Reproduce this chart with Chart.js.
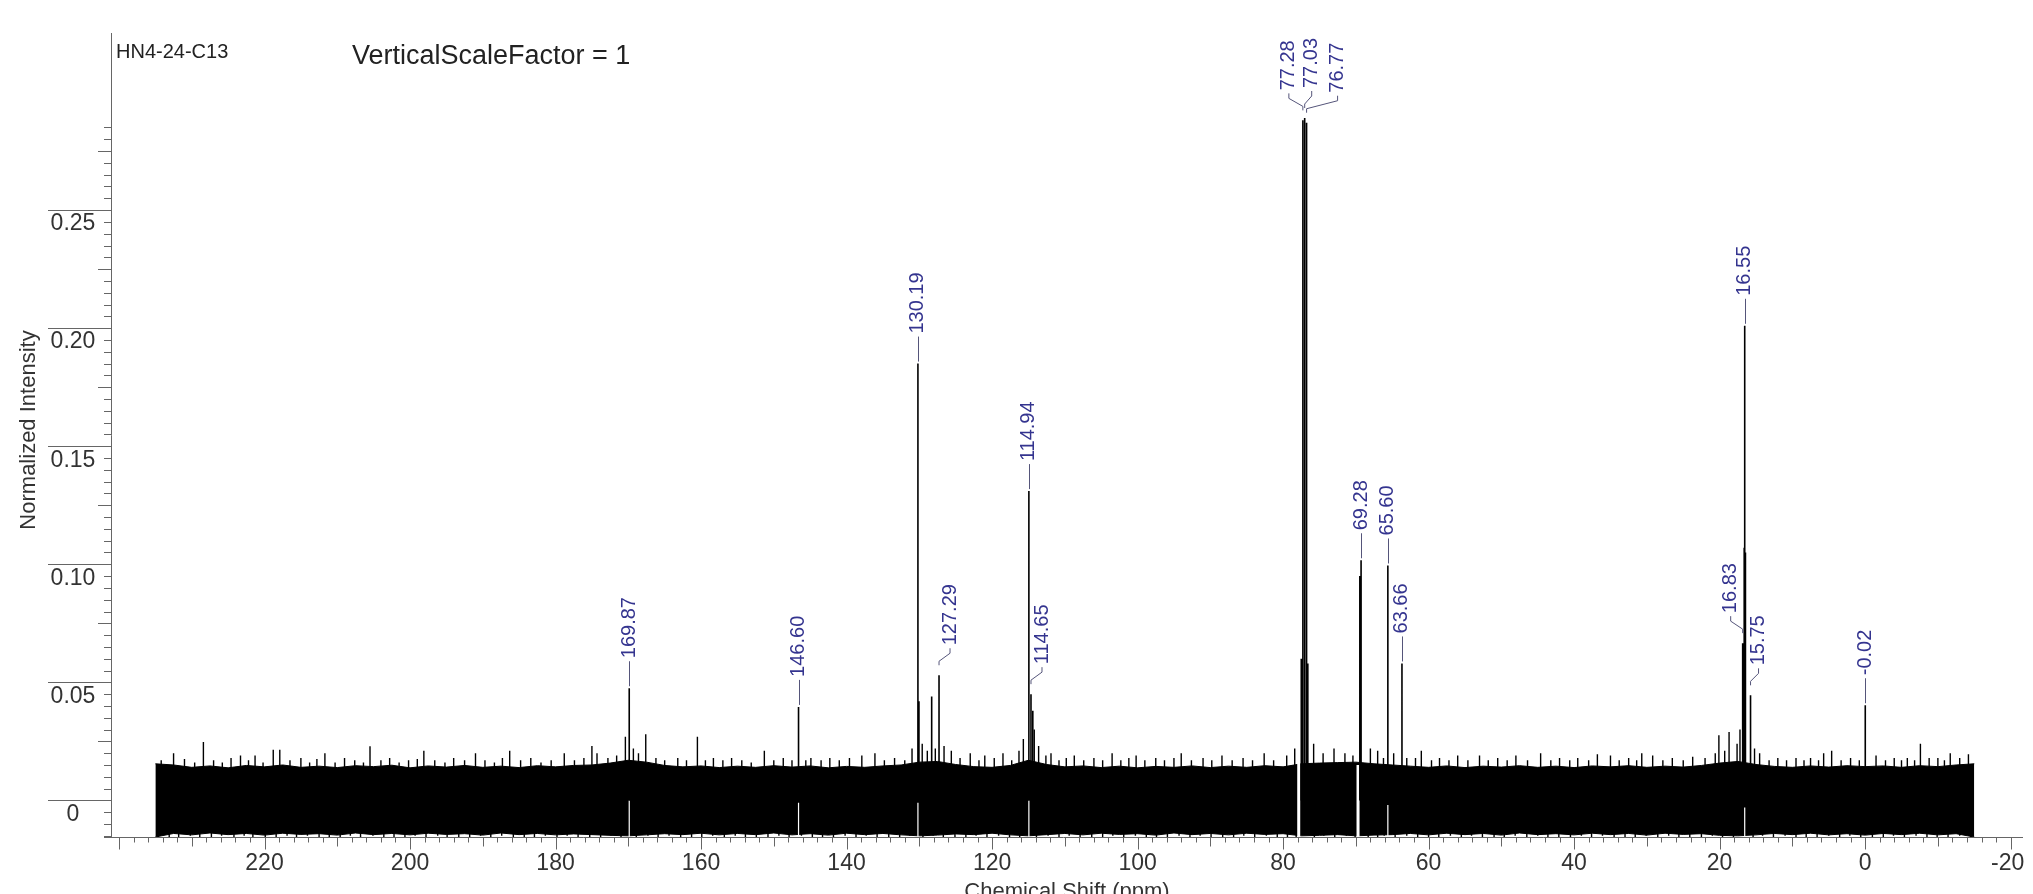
<!DOCTYPE html>
<html>
<head>
<meta charset="utf-8">
<title>HN4-24-C13</title>
<script src="https://cdn.jsdelivr.net/npm/chart.js@4/dist/chart.umd.min.js"></script>
<style>
  html, body { margin: 0; padding: 0; background: #fff; }
  canvas { display: block; }
</style>
</head>
<body>
<canvas id="spec" width="2033" height="894"></canvas>
<script>
/* HN4-24-C13 — 13C spectrum, normalized intensity vs chemical shift */

const sampleName = 'HN4-24-C13';
const scaleNote = 'VerticalScaleFactor = 1';
const xTitle = 'Chemical Shift (ppm)';
const yTitle = 'Normalized Intensity';

const xTickLabels = [220, 200, 180, 160, 140, 120, 100, 80, 60, 40, 20, 0, -20];
const yTickValues = [0, 0.05, 0.10, 0.15, 0.20, 0.25];
const yTickLabels = ['0', '0.05', '0.10', '0.15', '0.20', '0.25'];

// resolved lines: [ppm, normalized height]
const peaks = [
  [169.87, 0.0475], [146.60, 0.0396],
  [130.19, 0.185], [130.05, 0.042], [128.3, 0.044], [127.29, 0.053],
  [114.94, 0.131], [114.65, 0.045], [114.4, 0.038],
  [77.5, 0.060], [77.28, 0.288], [77.03, 0.289], [76.77, 0.287], [76.6, 0.058],
  [69.45, 0.095], [69.28, 0.1017], [65.60, 0.0995], [63.66, 0.058],
  [16.83, 0.0666], [16.62, 0.107], [16.55, 0.201], [16.45, 0.105], [15.75, 0.0445],
  [-0.02, 0.0403],
];

// picked peaks carrying a label
const labelPpm = [169.87, 146.60, 130.19, 127.29, 114.94, 114.65, 77.28, 77.03, 76.77,
  69.28, 65.60, 63.66, 16.83, 16.55, 15.75, -0.02];

// baseline noise: dense band every 2.5 ppm
const bandPpm = [235, 232.5, 230, 227.5, 225, 222.5, 220, 217.5, 215, 212.5, 210, 207.5, 205, 202.5, 200,
  197.5, 195, 192.5, 190, 187.5, 185, 182.5, 180, 177.5, 175, 172.5, 170, 167.5, 165, 162.5, 160,
  157.5, 155, 152.5, 150, 147.5, 145, 142.5, 140, 137.5, 135, 132.5, 130, 127.5, 125, 122.5, 120,
  117.5, 115, 112.5, 110, 107.5, 105, 102.5, 100, 97.5, 95, 92.5, 90, 87.5, 85, 82.5, 80,
  77.5, 75, 72.5, 70, 67.5, 65, 62.5, 60, 57.5, 55, 52.5, 50, 47.5, 45, 42.5, 40,
  37.5, 35, 32.5, 30, 27.5, 25, 22.5, 20, 17.5, 15, 12.5, 10, 7.5, 5, 2.5, 0,
  -2.5, -5, -7.5, -10, -12.5, -15];
const bandTop = [0.0155, 0.0150, 0.0140, 0.0146, 0.0138, 0.0148, 0.0142, 0.0150, 0.0140, 0.0145, 0.0139, 0.0147, 0.0143, 0.0149, 0.0138,
  0.0146, 0.0141, 0.0148, 0.0140, 0.0145, 0.0139, 0.0147, 0.0142, 0.0148, 0.0150, 0.0158, 0.0170, 0.0162, 0.0148, 0.0142, 0.0146,
  0.0139, 0.0145, 0.0140, 0.0147, 0.0141, 0.0146, 0.0138, 0.0144, 0.0140, 0.0146, 0.0150, 0.0162, 0.0165, 0.0152, 0.0143, 0.0140,
  0.0148, 0.0170, 0.0152, 0.0142, 0.0146, 0.0139, 0.0145, 0.0138, 0.0144, 0.0140, 0.0146, 0.0139, 0.0145, 0.0140, 0.0147, 0.0142,
  0.0155, 0.0158, 0.0160, 0.0162, 0.0155, 0.0150, 0.0145, 0.0140, 0.0146, 0.0139, 0.0145, 0.0141, 0.0147, 0.0140, 0.0145, 0.0139,
  0.0146, 0.0142, 0.0147, 0.0140, 0.0145, 0.0141, 0.0148, 0.0158, 0.0165, 0.0152, 0.0144, 0.0140, 0.0146, 0.0141, 0.0147, 0.0143,
  0.0146, 0.0140, 0.0147, 0.0143, 0.0150, 0.0155];
const bandBottom = [-0.0155, -0.0140, -0.0146, -0.0138, -0.0145, -0.0140, -0.0147, -0.0139, -0.0144, -0.0141, -0.0147, -0.0138, -0.0145, -0.0140, -0.0146,
  -0.0139, -0.0144, -0.0141, -0.0147, -0.0138, -0.0145, -0.0140, -0.0146, -0.0142, -0.0145, -0.0148, -0.0150, -0.0146, -0.0141, -0.0145, -0.0139,
  -0.0146, -0.0140, -0.0145, -0.0138, -0.0146, -0.0141, -0.0147, -0.0139, -0.0145, -0.0140, -0.0146, -0.0150, -0.0147, -0.0142, -0.0145, -0.0139,
  -0.0146, -0.0150, -0.0145, -0.0140, -0.0146, -0.0139, -0.0144, -0.0141, -0.0147, -0.0138, -0.0145, -0.0140, -0.0146, -0.0139, -0.0144, -0.0141,
  -0.0150, -0.0148, -0.0145, -0.0150, -0.0147, -0.0145, -0.0140, -0.0146, -0.0139, -0.0145, -0.0140, -0.0147, -0.0138, -0.0145, -0.0141, -0.0146,
  -0.0139, -0.0145, -0.0140, -0.0147, -0.0139, -0.0144, -0.0141, -0.0148, -0.0150, -0.0146, -0.0140, -0.0145, -0.0139, -0.0146, -0.0141, -0.0147,
  -0.0140, -0.0145, -0.0139, -0.0146, -0.0141, -0.0155];

// noise spikes standing out of the band: [ppm, value]
const spikesUp = [
  [234.2, .017], [232.5, .020], [231.0, .0175], [229.6, .016], [228.4, .0247], [227.0, .017], [225.8, .016],
  [224.6, .018], [223.3, .019], [222.2, .017], [221.3, .019], [220.2, .016], [218.8, .0215], [217.9, .0215],
  [216.5, .017], [215.0, .018], [213.8, .016], [212.8, .0175], [211.7, .020], [210.3, .016], [209.0, .018],
  [207.6, .017], [206.4, .016], [205.5, .0229], [204.0, .017], [202.8, .018], [201.5, .016], [200.2, .017],
  [199.0, .0175], [198.1, .021], [196.6, .017], [195.2, .016], [194.0, .018], [192.5, .017], [191.0, .020],
  [189.7, .017], [188.4, .016], [187.3, .018], [186.3, .021], [184.8, .017], [183.4, .018], [182.0, .016],
  [180.6, .017], [178.8, .020], [177.4, .017], [176.1, .018], [175.0, .023], [174.3, .020], [172.8, .018],
  [171.6, .019], [170.4, .027], [169.3, .022], [168.6, .020], [167.6, .028], [166.2, .018], [165.0, .017],
  [163.2, .018], [162.0, .017], [160.5, .027], [159.4, .017], [158.3, .018], [157.0, .017], [155.8, .018],
  [154.4, .017], [153.1, .016], [151.3, .021], [150.0, .017], [148.7, .018], [147.5, .017], [145.6, .017],
  [144.9, .018], [143.5, .017], [142.3, .018], [141.0, .017], [139.6, .018], [137.9, .019], [136.1, .020],
  [134.8, .017], [133.4, .018], [132.0, .017], [131.0, .022], [129.6, .024], [128.9, .021], [127.8, .022],
  [126.6, .023], [125.6, .021], [124.4, .018], [123.0, .020], [121.8, .017], [121.0, .019], [119.7, .018],
  [118.5, .020], [117.3, .017], [116.3, .021], [115.7, .026], [114.2, .030], [113.6, .023], [112.6, .019],
  [111.9, .020], [110.8, .017], [109.8, .018], [108.7, .019], [107.4, .017], [106.0, .018], [104.8, .017],
  [103.5, .020], [102.3, .017], [101.2, .018], [100.2, .019], [99.0, .017], [97.5, .018], [96.3, .017],
  [95.0, .018], [94.0, .020], [92.6, .017], [91.0, .018], [89.8, .017], [88.4, .019], [87.0, .017],
  [85.5, .018], [84.2, .017], [82.6, .020], [81.3, .017], [79.5, .019], [78.4, .022], [75.8, .024],
  [74.5, .020], [73.0, .022], [71.5, .020], [70.4, .019], [68.0, .022], [67.0, .021], [66.2, .018],
  [64.8, .020], [63.0, .018], [61.8, .018], [61.0, .021], [59.6, .017], [58.5, .018], [57.2, .017],
  [56.0, .019], [54.6, .017], [53.0, .019], [51.8, .017], [50.5, .018], [49.2, .017], [48.0, .019],
  [46.4, .017], [44.6, .020], [43.2, .017], [42.0, .018], [40.6, .017], [39.5, .018], [38.0, .017],
  [36.8, .0195], [35.0, .019], [33.8, .017], [32.5, .018], [31.4, .017], [30.7, .020], [29.2, .019],
  [27.8, .017], [26.5, .018], [25.0, .017], [23.7, .0185], [22.0, .018], [20.6, .020], [20.1, .0276],
  [19.3, .021], [18.7, .029], [17.6, .024], [17.2, .030], [15.2, .022], [14.5, .020], [13.2, .017],
  [12.0, .018], [10.8, .017], [9.5, .018], [8.4, .017], [7.5, .018], [6.4, .017], [5.7, .020], [4.6, .021],
  [3.3, .017], [2.0, .018], [0.8, .017], [-1.5, .019], [-2.8, .017], [-4.0, .018], [-5.0, .017],
  [-5.8, .018], [-6.8, .017], [-7.6, .024], [-8.8, .018], [-10.0, .018], [-10.9, .017], [-11.7, .020],
  [-13.0, .018], [-14.2, .0195],
];
const spikesDown = [
  [234.6, -.0155], [233.1, -.0155], [231.8, -.0155], [230.2, -.015], [228.9, -.0155], [227.3, -.0155],
  [225.9, -.015], [224.2, -.0155], [222.8, -.015], [221.6, -.0155], [219.9, -.0155], [218.4, -.0155],
  [216.9, -.015], [215.6, -.0155], [214.1, -.015], [212.5, -.0155], [211.1, -.0155], [209.6, -.0155],
  [208.2, -.015], [206.8, -.0155], [205.1, -.015], [203.6, -.0155], [202.2, -.0155], [200.7, -.0155],
  [199.3, -.015], [197.8, -.0155], [196.2, -.015], [194.9, -.0155], [193.3, -.0155], [191.8, -.0155],
  [190.3, -.015], [188.9, -.0155], [187.4, -.015], [185.8, -.0155], [184.3, -.0155], [182.9, -.0155],
  [181.4, -.015], [179.8, -.0155], [178.4, -.015], [176.9, -.0155], [175.3, -.0155], [173.8, -.0155],
  [172.4, -.015], [171.0, -.0155], [168.9, -.0155], [167.3, -.015], [165.9, -.0155], [164.4, -.015],
  [162.8, -.0155], [161.3, -.0155], [159.9, -.0155], [158.4, -.015], [156.8, -.0155], [155.3, -.015],
  [153.9, -.0155], [152.4, -.0155], [150.8, -.0155], [149.3, -.015], [147.9, -.0155], [146.2, -.015],
  [144.7, -.0155], [143.3, -.0155], [141.8, -.0155], [140.2, -.015], [138.7, -.0155], [137.3, -.015],
  [135.8, -.0155], [134.2, -.0155], [132.7, -.0155], [131.3, -.015], [129.5, -.0155], [128.1, -.015],
  [126.7, -.0155], [125.1, -.0155], [123.6, -.0155], [122.2, -.015], [120.7, -.0155], [119.1, -.015],
  [117.6, -.0155], [116.2, -.0155], [113.9, -.0155], [112.3, -.015], [110.8, -.0155], [109.4, -.015],
  [107.9, -.0155], [106.3, -.0155], [104.8, -.0155], [103.4, -.015], [101.9, -.0155], [100.3, -.015],
  [98.8, -.0155], [97.4, -.0155], [95.9, -.0155], [94.3, -.015], [92.8, -.0155], [91.4, -.015],
  [89.9, -.0155], [88.3, -.0155], [86.8, -.0155], [85.4, -.015], [83.9, -.0155], [82.3, -.015],
  [80.8, -.0155], [79.4, -.0155], [78.2, -.0155], [75.7, -.0155], [74.4, -.015], [72.9, -.0155],
  [71.3, -.015], [70.1, -.0155], [68.3, -.0155], [67.0, -.0155], [66.1, -.015], [64.6, -.0155],
  [63.0, -.015], [61.5, -.0155], [60.0, -.0155], [58.6, -.0155], [57.0, -.015], [55.5, -.0155],
  [54.1, -.015], [52.6, -.0155], [51.0, -.0155], [49.6, -.0155], [48.1, -.015], [46.5, -.0155],
  [45.0, -.015], [43.6, -.0155], [42.1, -.0155], [40.5, -.0155], [39.0, -.015], [37.6, -.0155],
  [36.1, -.015], [34.5, -.0155], [33.0, -.0155], [31.6, -.0155], [30.1, -.015], [28.5, -.0155],
  [27.0, -.015], [25.6, -.0155], [24.1, -.0155], [22.5, -.0155], [21.0, -.015], [19.6, -.0155],
  [18.1, -.0155], [15.4, -.0155], [14.1, -.015], [12.6, -.0155], [11.0, -.015], [9.5, -.0155],
  [8.1, -.0155], [6.6, -.0155], [5.0, -.015], [3.5, -.0155], [2.1, -.015], [0.6, -.0155],
  [-1.0, -.0155], [-2.5, -.0155], [-3.9, -.015], [-5.4, -.0155], [-7.0, -.015], [-8.5, -.0155],
  [-9.9, -.0155], [-11.4, -.0155], [-13.0, -.015], [-14.5, -.0155],
];

// white slots cut into the noise at strong lines: [ppm, top of slot]
const noiseGapsThin = [[169.87, 0.0], [146.60, -0.001], [130.19, -0.001], [114.94, 0.0], [65.60, -0.002], [16.55, -0.003]];
const noiseGapsWide = [[77.85, 0.016], [69.7, 0.015]];

// horizontal nudges (px) for crowded labels, as MestReNova lays them out
const labelShift = { 127.29: 11, 114.65: 11, 77.28: -14, 77.03: 7, 76.77: 31, 16.83: -12, 15.75: 8 };

const FONT = '"Liberation Sans", Arial, sans-serif';

function sticks(list, from) {
  const pts = [];
  for (const [p, h] of list) pts.push({ x: p, y: from == null ? 0 : from }, { x: p, y: h }, { x: p, y: null });
  return pts;
}

// higher `order` is painted first (further back)
function line(data, width, order, extra) {
  return Object.assign({
    data, order, showLine: true, spanGaps: false, borderColor: '#000', borderWidth: width,
    pointRadius: 0, fill: false,
  }, extra || {});
}

const nmrFrame = {
  id: 'nmrFrame',
  afterDraw(chart) {
    const { ctx, chartArea: a, scales: { x, y } } = chart;
    ctx.save();
    ctx.strokeStyle = '#666';
    ctx.lineWidth = 1;

    // axis lines
    ctx.beginPath();
    ctx.moveTo(a.left + 0.5, a.top);
    ctx.lineTo(a.left + 0.5, a.bottom + 0.5);
    ctx.moveTo(a.left - 7, a.bottom + 0.5);
    ctx.lineTo(a.right, a.bottom + 0.5);
    ctx.stroke();

    // x ticks every 2 ppm
    ctx.beginPath();
    for (let v = 240; v >= -20; v -= 2) {
      const px = Math.round(x.getPixelForValue(v)) + 0.5;
      const len = v % 20 === 0 ? 12 : (v % 10 === 0 ? 9 : 5);
      ctx.moveTo(px, a.bottom + 0.5);
      ctx.lineTo(px, a.bottom + 0.5 + len);
    }
    ctx.stroke();

    // y ticks every 0.005
    ctx.beginPath();
    for (let k = -3; k <= 57; k++) {
      const py = Math.round(y.getPixelForValue(k * 0.005)) + 0.5;
      const len = k % 10 === 0 ? 63 : (k % 5 === 0 ? 13 : 7);
      ctx.moveTo(a.left - len, py);
      ctx.lineTo(a.left, py);
    }
    ctx.stroke();

    // tick labels
    ctx.fillStyle = '#333';
    ctx.font = '23px ' + FONT;
    ctx.textAlign = 'center';
    ctx.textBaseline = 'middle';
    xTickLabels.forEach(v => ctx.fillText(String(v), x.getPixelForValue(v) - (v < 0 ? 3 : 0), a.bottom + 27));
    yTickValues.forEach((v, i) => ctx.fillText(yTickLabels[i], 73, y.getPixelForValue(v) + 14));

    // axis titles
    ctx.font = '22px ' + FONT;
    ctx.textBaseline = 'top';
    ctx.fillText(xTitle, (a.left + a.right) / 2, a.bottom + 44);
    ctx.save();
    ctx.translate(29, 430);
    ctx.rotate(-Math.PI / 2);
    ctx.textBaseline = 'middle';
    ctx.font = '22px ' + FONT;
    ctx.fillText(yTitle, 0, 0);
    ctx.restore();

    // sample name and scale note
    ctx.fillStyle = '#222';
    ctx.textAlign = 'left';
    ctx.textBaseline = 'middle';
    ctx.font = '20px ' + FONT;
    ctx.fillText(sampleName, 116, 52);
    ctx.font = '27px ' + FONT;
    ctx.fillText(scaleNote, 352, 57);

    // peak labels
    ctx.font = '20px ' + FONT;
    ctx.fillStyle = '#34348f';
    ctx.strokeStyle = '#55557a';
    ctx.lineWidth = 1;
    labelPpm.forEach(p => {
      const hit = peaks.find(pk => pk[0] === p);
      const px = x.getPixelForValue(p);
      const top = y.getPixelForValue(hit[1]);
      const shift = labelShift[p] || 0;
      const lx = px + shift;
      const base = top - 30;
      ctx.save();
      ctx.translate(lx, base);
      ctx.rotate(-Math.PI / 2);
      ctx.textAlign = 'left';
      ctx.textBaseline = 'middle';
      ctx.fillText(p.toFixed(2), 0, 0);
      ctx.restore();
      ctx.beginPath();
      if (shift === 0) {
        ctx.moveTo(Math.round(px) + 0.5, base + 3);
        ctx.lineTo(Math.round(px) + 0.5, top - 2);
      } else {
        ctx.moveTo(lx, base + 3);
        ctx.lineTo(lx, base + 8);
        ctx.lineTo(px, base + 16);
        ctx.lineTo(px, base + 20);
      }
      ctx.stroke();
    });
    ctx.restore();
  },
};

new Chart(document.getElementById('spec'), {
  type: 'scatter',
  data: {
    datasets: [
      line(bandPpm.map((p, i) => ({ x: p, y: bandTop[i] })), 1, 7),
      line(bandPpm.map((p, i) => ({ x: p, y: bandBottom[i] })), 1, 6, { fill: '-1', backgroundColor: '#000' }),
      line(sticks(spikesUp), 1.4, 5),
      line(sticks(spikesDown), 1.4, 4),
      line(sticks(noiseGapsThin, -0.0155), 1.2, 3, { borderColor: '#fff' }),
      line(sticks(noiseGapsWide, -0.0155), 3, 2, { borderColor: '#fff' }),
      line(sticks(peaks), 1.6, 1),
    ],
  },
  options: {
    responsive: false,
    devicePixelRatio: 1,
    animation: false,
    events: [],
    layout: { padding: { left: 111, top: 33, right: 10, bottom: 57 } },
    plugins: { legend: { display: false }, tooltip: { enabled: false } },
    scales: {
      x: { type: 'linear', reverse: true, min: -21.7, max: 241.1, display: false },
      y: { type: 'linear', min: -0.0155, max: 0.325, display: false },
    },
  },
  plugins: [nmrFrame],
});
</script>
</body>
</html>
